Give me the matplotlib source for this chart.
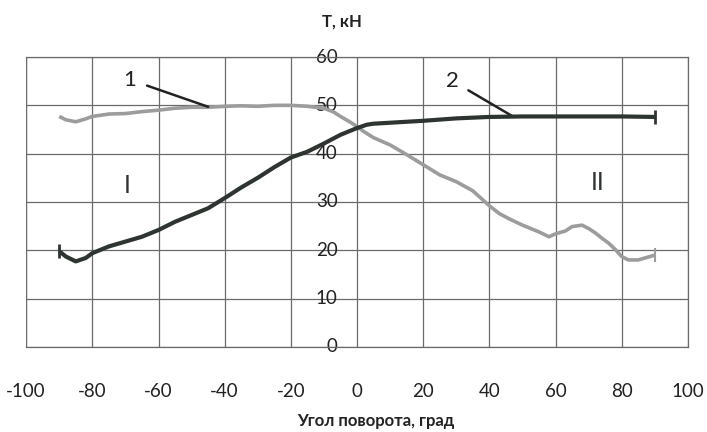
import matplotlib
matplotlib.use("Agg")
import matplotlib.pyplot as plt

plt.rcParams['font.family'] = ['Lato', 'Open Sans', 'DejaVu Sans']
plt.rcParams['axes.unicode_minus'] = False

# Curve 1 (grey)
angle_1 = [-90, -88, -85, -82, -80, -75, -70, -65, -60, -55, -50, -45, -40, -35, -30,
           -25, -20, -15, -10, -7, -5, -2, 0, 2, 5, 10, 15, 20, 25, 30, 35, 40, 43,
           46, 50, 55, 58, 60, 63, 65, 68, 70, 72, 74, 76, 78, 80, 82, 85, 88, 90]
force_1 = [47.7, 47.0, 46.6, 47.2, 47.7, 48.2, 48.3, 48.7, 49.0, 49.4, 49.6, 49.6, 49.8,
           49.9, 49.8, 50.0, 50.0, 49.8, 49.4, 48.6, 47.7, 46.5, 45.6, 44.6, 43.3, 41.8,
           39.8, 37.7, 35.6, 34.2, 32.3, 29.2, 27.6, 26.5, 25.2, 23.8, 22.8, 23.4,
           24.0, 24.9, 25.2, 24.5, 23.6, 22.5, 21.5, 20.2, 18.7, 18.0, 18.0, 18.6, 19.0]

# Curve 2 (dark)
angle_2 = [-90, -88, -85, -82, -80, -75, -70, -65, -60, -55, -50, -45, -40, -35, -30,
           -25, -20, -15, -10, -5, 0, 3, 5, 10, 20, 30, 40, 50, 60, 70, 80, 90]
force_2 = [19.8, 18.7, 17.7, 18.4, 19.4, 20.8, 21.8, 22.8, 24.2, 25.9, 27.3, 28.7, 30.8,
           33.0, 35.0, 37.2, 39.2, 40.4, 42.1, 43.9, 45.3, 46.0, 46.2, 46.4, 46.8, 47.3,
           47.6, 47.7, 47.7, 47.7, 47.7, 47.6]

x_ticks = [-100, -80, -60, -40, -20, 0, 20, 40, 60, 80, 100]
y_ticks = [0, 10, 20, 30, 40, 50, 60]

fig = plt.figure(figsize=(7.07, 4.32), dpi=100)
ax = fig.add_axes([0.037, 0.197, 0.936, 0.671])
ax.set_xlim(-100, 100)
ax.set_ylim(0, 60)

grid_c = '#6a6a6a'
ax.set_xticks(x_ticks)
ax.set_yticks(y_ticks)
ax.grid(True, color=grid_c, linewidth=0.9)
ax.set_axisbelow(True)

for s in ['top', 'right', 'bottom']:
    ax.spines[s].set_color(grid_c)
    ax.spines[s].set_linewidth(0.9)
ax.spines['left'].set_position(('data', 0))
ax.spines['left'].set_visible(False)

# left border as grid
ax.axvline(-100, color=grid_c, linewidth=0.9, zorder=0)

ax.tick_params(axis='x', length=0, pad=26, labelsize=13.5, colors='#222222')
ax.tick_params(axis='y', length=0, pad=14, labelsize=13.5, colors='#222222')
for lab in ax.get_yticklabels():
    lab.set_verticalalignment('center')

ax.plot(angle_1, force_1, color='#9c9c9c', linewidth=2.6, solid_capstyle='butt', zorder=3)
ax.plot(angle_2, force_2, color='#2e3530', linewidth=3.0, solid_capstyle='butt', zorder=4)

# end ticks
ax.plot([angle_1[-1]], [force_1[-1]], marker='|', markersize=10, color='#9c9c9c', mew=1.5, zorder=3)
ax.plot([angle_2[0], angle_2[-1]], [force_2[0], force_2[-1]], linestyle='none',
        marker='|', markersize=10, color='#2e3530', mew=2, zorder=4)

# annotations
ax.annotate('1', xy=(-45, 49.7), xytext=(-68.6, 55.3), fontsize=16, color='#222222',
            ha='center', va='center',
            arrowprops=dict(arrowstyle='-', color='#222222', lw=1.8, shrinkA=6, shrinkB=0))
ax.annotate('2', xy=(47.1, 47.7), xytext=(28.7, 55.1), fontsize=16, color='#222222',
            ha='center', va='center',
            arrowprops=dict(arrowstyle='-', color='#222222', lw=1.8, shrinkA=6, shrinkB=0))
ax.text(-69.4, 33.5, 'I', fontsize=18, color='#2e3530', ha='center', va='center')
ax.text(72.8, 34.0, 'II', fontsize=18, color='#2e3530', ha='center', va='center')

fig.text(342 / 707, 1 - 22 / 432, 'T, кН', fontsize=12, fontweight='bold',
         ha='center', va='center', color='#222222')
fig.text(376 / 707, 1 - 421 / 432, 'Угол поворота, град', fontsize=12, fontweight='bold',
         ha='center', va='center', color='#222222')

fig.savefig('out.png', dpi=100)
